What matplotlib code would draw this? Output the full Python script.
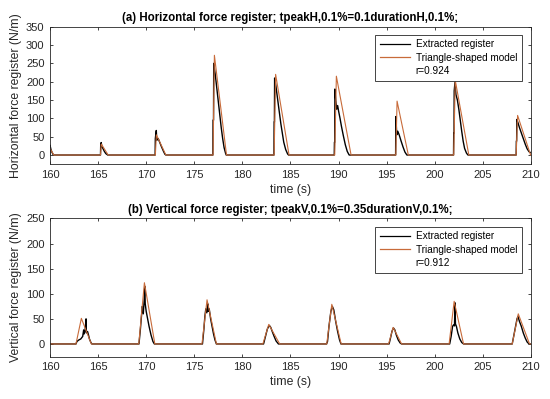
#!/usr/bin/env python3
"""Horizontal and vertical force registers vs triangle-shaped model."""

import matplotlib
matplotlib.use('Agg')
import matplotlib.pyplot as plt
from matplotlib.lines import Line2D

# Horizontal register (a): extracted signal, read point by point.
h_ext_t = [160.0, 160.1, 160.2, 160.35,
           165.25, 165.27, 165.32, 165.4, 165.5, 165.65, 165.8, 166.0,
           170.93, 170.95, 171.05, 171.1, 171.25, 171.4, 171.6, 171.8, 171.95,
           172.05,
           176.93, 176.95, 177.0, 177.02, 177.1, 177.2, 177.35, 177.5, 177.65,
           177.8, 177.95, 178.1, 178.25, 178.32,
           183.28, 183.3, 183.33, 183.35, 183.45, 183.55, 183.7, 183.85, 184.0,
           184.15, 184.3, 184.5, 184.7, 184.8,
           189.55, 189.57, 189.6, 189.62, 189.7, 189.8, 189.9, 190.0, 190.15,
           190.3, 190.5, 190.7, 190.9, 191.1,
           195.93, 195.95, 196.0, 196.05, 196.15, 196.3, 196.5, 196.7, 196.9,
           197.1,
           201.95, 201.97, 202.0, 202.02, 202.1, 202.2, 202.35, 202.5, 202.65,
           202.8, 202.95, 203.1, 203.3, 203.45,
           208.46, 208.48, 208.51, 208.53, 208.65, 208.8, 209.0, 209.2, 209.4,
           209.6, 209.8, 210.0]
h_ext_v = [27, 15, 8, 0,
           0, 25, 34, 22, 18, 10, 4, 0,
           0, 45, 67, 40, 45, 35, 22, 10, 2,
           0,
           0, 95, 95, 250, 235, 215, 180, 145, 110,
           75, 45, 20, 5, 0,
           0, 90, 90, 210, 195, 175, 145, 115, 85,
           60, 35, 15, 3, 0,
           0, 35, 35, 180, 150, 125, 135, 120, 100,
           78, 52, 28, 10, 0,
           0, 105, 80, 55, 65, 55, 38, 22, 8,
           0,
           0, 60, 60, 175, 198, 165, 150, 125, 95,
           65, 38, 18, 5, 0,
           0, 38, 38, 97, 88, 75, 60, 45, 30,
           17, 9, 6]

# Horizontal model: triangles with tpeak = 0.1 * duration.
h_onset = [159.9, 165.25, 170.95, 176.95, 183.3, 189.6, 195.95, 201.97, 208.46]
h_duration = [0.5, 0.8, 1.1, 1.4, 1.55, 1.7, 1.3, 1.57, 1.5]
h_peak = [20, 30, 55, 272, 220, 215, 147, 204, 108]
h_tpeak_ratio = 0.1

# Vertical register (b): extracted signal.
v_ext_t = [162.7, 162.8, 163.0, 163.2, 163.4, 163.5, 163.55, 163.65, 163.75,
           163.78, 163.9, 164.0, 164.1, 164.25, 164.35,
           169.25, 169.4, 169.55, 169.6, 169.7, 169.8, 169.85, 169.9, 170.0,
           170.1, 170.3, 170.5, 170.7, 170.85,
           175.85, 176.0, 176.1, 176.2, 176.3, 176.4, 176.45, 176.55, 176.7,
           176.85, 177.0, 177.15, 177.3,
           182.2, 182.4, 182.6, 182.8, 182.95, 183.1, 183.3, 183.5, 183.75,
           188.75, 188.85, 189.0, 189.2, 189.35, 189.5, 189.7, 189.9, 190.1,
           190.25,
           195.25, 195.4, 195.55, 195.7, 195.85, 196.0, 196.2, 196.4, 196.55,
           201.55, 201.7, 201.85, 201.95, 202.05, 202.1, 202.15, 202.25, 202.4,
           202.6, 202.8, 203.0,
           208.05, 208.2, 208.4, 208.55, 208.65, 208.8, 209.0, 209.2, 209.4,
           209.6, 209.8]
v_ext_v = [0, 5, 8, 10, 15, 28, 20, 27, 50,
           22, 25, 18, 10, 3, 0,
           0, 30, 65, 75, 60, 90, 115, 80, 65,
           55, 35, 18, 5, 0,
           0, 30, 55, 70, 62, 80, 65, 70, 50,
           35, 20, 8, 0,
           0, 15, 30, 37, 33, 25, 15, 6, 0,
           0, 5, 35, 65, 75, 68, 45, 25, 8,
           0,
           0, 12, 25, 32, 28, 18, 8, 2, 0,
           0, 15, 35, 38, 36, 82, 40, 35, 22,
           10, 3, 0,
           0, 15, 35, 50, 55, 45, 35, 22, 12,
           4, 0]

# Vertical model: triangles with tpeak = 0.35 * duration.
v_onset = [162.7, 169.23, 175.8, 182.13, 188.77, 195.2, 201.49, 208.05]
v_duration = [1.6, 1.67, 1.5, 1.75, 1.5, 1.35, 1.5, 1.8]
v_peak = [51, 122, 88, 39, 79, 33, 85, 60]
v_tpeak_ratio = 0.35

r_h = 0.924
r_v = 0.912

EXT_COLOR = '#000000'
MODEL_COLOR = '#C86B3A'
TEXT_COLOR = '#262626'
FONT = 'Liberation Sans'


def triangle_series(onsets, durations, peaks, ratio):
  """Builds the polyline of a triangle-shaped model from its parameters."""
  t = []
  v = []
  for t0, d, p in zip(onsets, durations, peaks):
    t += [t0, t0 + ratio * d, t0 + d]
    v += [0, p, 0]
  return t, v


def with_baseline(t, v, t_start, t_end):
  """Adds zero segments at both ends so the line sits on the baseline."""
  out_t = [t_start] + list(t) + [t_end]
  out_v = [0] + list(v) + [v[-1]]
  return out_t, out_v


def style_axes(ax, ylim, yticks, ylabel, title):
  ax.set_xlim(160, 210)
  ax.set_ylim(*ylim)
  ax.set_xticks(range(160, 211, 5))
  ax.set_yticks(yticks)
  ax.tick_params(direction='in', length=2.5, width=0.6, top=True, right=True,
                 labelsize=8, colors=TEXT_COLOR, pad=4)
  for s in ax.spines.values():
    s.set_linewidth(0.6)
    s.set_color(TEXT_COLOR)
  ax.set_xlabel('time (s)', fontsize=8.8, color=TEXT_COLOR, labelpad=3)
  ax.set_ylabel(ylabel, fontsize=8.8, color=TEXT_COLOR, labelpad=3)
  ax.set_title(title, fontsize=8.3, fontweight='bold', pad=4)


def add_legend(ax, r):
  handles = [Line2D([], [], color=EXT_COLOR, lw=0.9),
             Line2D([], [], color=MODEL_COLOR, lw=0.9),
             Line2D([], [], color='none')]
  labels = ['Extracted register', 'Triangle-shaped model', f'r={r:.3f}']
  leg = ax.legend(handles, labels, loc='upper right',
                  bbox_to_anchor=(0.981, 0.94), borderaxespad=0,
                  fontsize=7.2, fancybox=False, framealpha=1,
                  edgecolor=TEXT_COLOR, handlelength=3.0, handletextpad=0.6,
                  borderpad=0.45, labelspacing=0.35)
  leg.get_frame().set_linewidth(0.6)


def main():
  plt.rcParams['font.family'] = [FONT, 'DejaVu Sans']
  fig = plt.figure(figsize=(5.5, 3.99), dpi=100)
  ax_h = fig.add_axes([0.0909, 0.5885, 0.8745, 0.3446])
  ax_v = fig.add_axes([0.0909, 0.1065, 0.8745, 0.3459])

  # (a) horizontal
  et, ev = with_baseline(h_ext_t, h_ext_v, 160, 210)
  ax_h.plot(et, ev, color=EXT_COLOR, lw=1.0)
  mt, mv = triangle_series(h_onset, h_duration, h_peak, h_tpeak_ratio)
  mt, mv = with_baseline(mt, mv, 159.5, 210.5)
  ax_h.plot(mt, mv, color=MODEL_COLOR, lw=0.8)
  style_axes(ax_h, (-25, 350), range(0, 351, 50),
             'Horizontal force register (N/m)',
             '(a) Horizontal force register; tpeakH,0.1%=0.1durationH,0.1%;')
  add_legend(ax_h, r_h)

  # (b) vertical
  et, ev = with_baseline(v_ext_t, v_ext_v, 160, 210)
  ax_v.plot(et, ev, color=EXT_COLOR, lw=1.0)
  mt, mv = triangle_series(v_onset, v_duration, v_peak, v_tpeak_ratio)
  mt, mv = with_baseline(mt, mv, 159.5, 210.5)
  ax_v.plot(mt, mv, color=MODEL_COLOR, lw=0.8)
  style_axes(ax_v, (-25, 250), range(0, 251, 50),
             'Vertical force register (N/m)',
             '(b) Vertical force register; tpeakV,0.1%=0.35durationV,0.1%;')
  add_legend(ax_v, r_v)

  fig.savefig('out.png', dpi=100)


if __name__ == '__main__':
  main()
